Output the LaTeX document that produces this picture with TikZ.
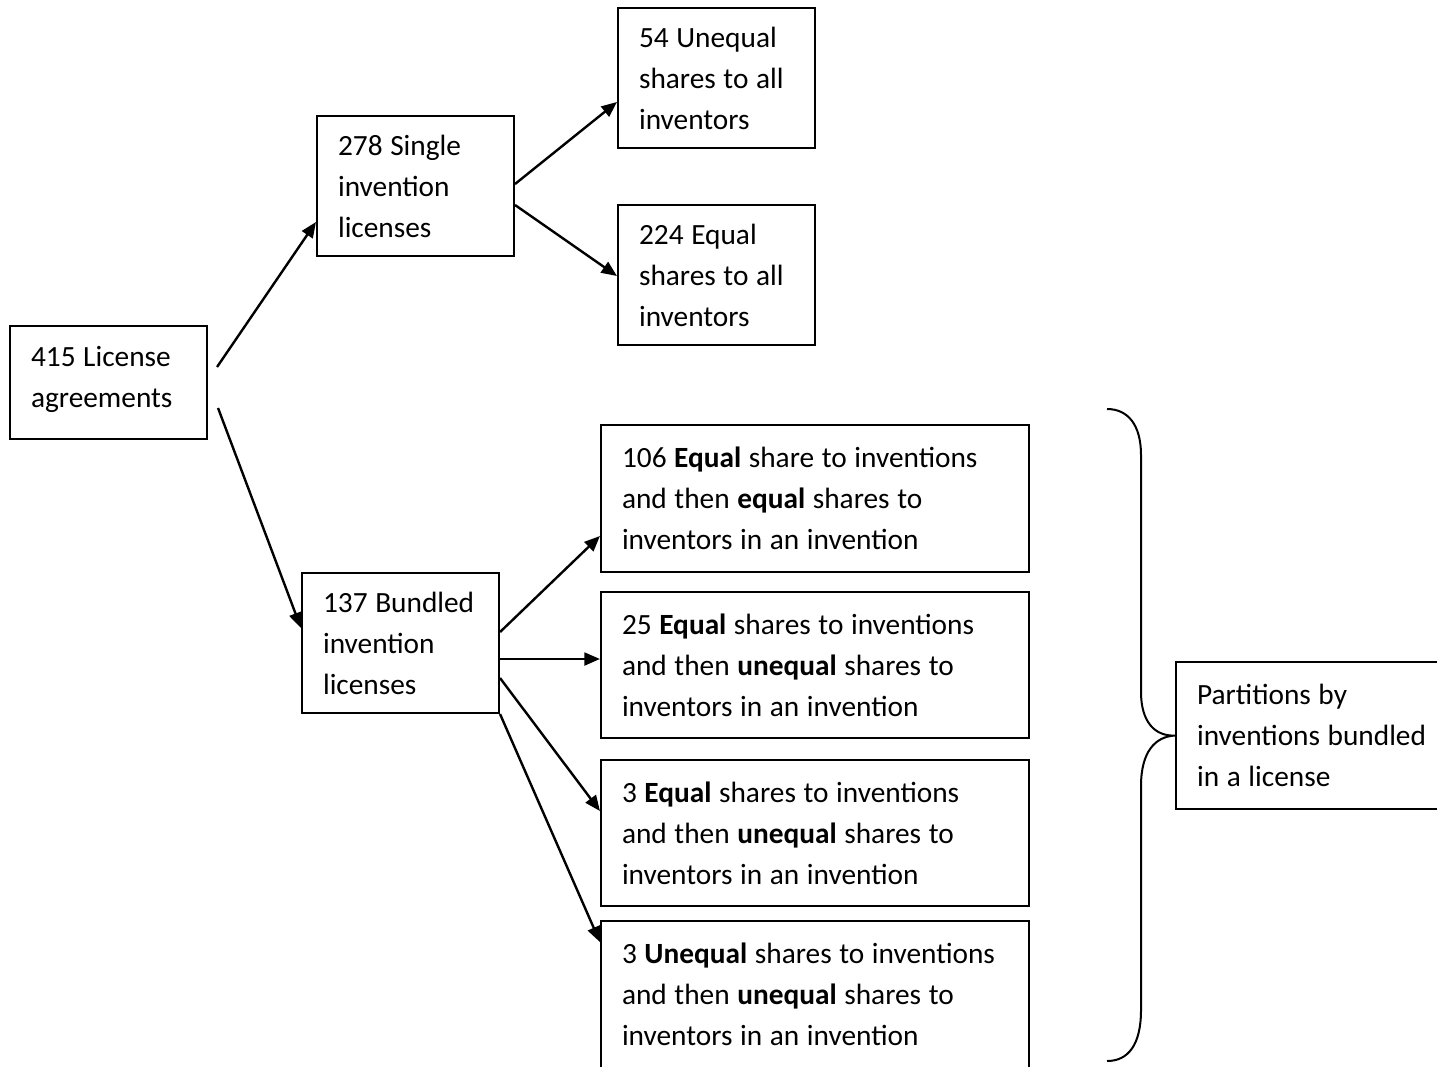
\documentclass[tikz,border=0pt]{standalone}
\usepackage{fontspec}
\setmainfont{Carlito}
\usepackage{tikz}
\usetikzlibrary{positioning, arrows.meta, calc}

\begin{document}
\begin{tikzpicture}[
  x=0.375pt, y=-0.375pt,
  every node/.style={font=\fontsize{11}{15.4}\selectfont, execute at begin node={\spaceskip=2.85pt plus 0.5pt\relax}},
  box/.style={draw, rectangle, line width=0.75pt, align=left, inner xsep=7.9pt, inner ysep=0pt, text width=58.1pt, minimum height=52.5pt},
  widebox/.style={box, text width=144.75pt, minimum height=55.1pt},
  arrow/.style={-{Triangle[length=5.8pt, width=4.8pt]}, line width=0.9pt}
]
\useasboundingbox (0,0) rectangle (1437,1066);

% Nodes
\node[box, minimum height=42.4pt, text depth=19.4pt] (license_all) at (108.5,382.5) {415 License\\agreements};
\node[box] (single) at (415.5,186) {278 Single\\invention\\licenses};
\node[box] (single_unequal) at (716.5,78) {54 Unequal\\shares to all\\inventors};
\node[box] (single_equal) at (716.5,275) {224 Equal\\shares to all\\inventors};
\node[box] (bundled) at (400.5,643) {137 Bundled\\invention\\licenses};

\node[widebox] (eq_eq) at (815,498.5) {106 \textbf{Equal} share to inventions\\and then \textbf{equal} shares to\\inventors in an invention};
\node[widebox] (eq_uneq_a) at (815,665) {25 \textbf{Equal} shares to inventions\\and then \textbf{unequal} shares to\\inventors in an invention};
\node[widebox] (eq_uneq_b) at (815,833) {3 \textbf{Equal} shares to inventions\\and then \textbf{unequal} shares to\\inventors in an invention};
\node[widebox] (uneq_uneq) at (815,994.5) {3 \textbf{Unequal} shares to inventions\\and then \textbf{unequal} shares to\\inventors in an invention};

\node[widebox, text width=89pt, anchor=west] (partitions) at (1175,735.5) {Partitions by\\inventions bundled\\in a license};

% Arrows
\draw[arrow] ($(license_all.east)+(9,-15.5)$) -- ($(single.west)+(0,36)$);
\draw[arrow] ($(license_all.east)+(10,25.5)$) -- ($(bundled.west)+(0,-15)$);
\draw[arrow] ($(single.east)+(0,-2)$) -- ($(single_unequal.west)+(0,24)$);
\draw[arrow] ($(single.east)+(0,19)$) -- ($(single_equal.west)+(0,1)$);
\draw[arrow] ($(bundled.east)+(0,-11)$) -- ($(eq_eq.west)+(0,37.5)$);
\draw[arrow] ($(bundled.east)+(0,16)$) -- ($(eq_uneq_a.west)+(0,-6)$);
\draw[arrow] ($(bundled.east)+(0,35)$) -- ($(eq_uneq_b.west)+(0,-22)$);
\draw[arrow] (bundled.south east) -- ($(uneq_uneq.west)+(0,-52.5)$);

% Brace
\draw[line width=0.75pt] (1107,409) .. controls (1128,409) and (1141,425) .. (1141,455)
  -- (1141,692) .. controls (1141,722) and (1155,736.5) .. (partitions.west)
  .. controls (1155,736.5) and (1141,752) .. (1141,786)
  -- (1141,1010) .. controls (1141,1045) and (1128,1061) .. (1107,1061);

\end{tikzpicture}
\end{document}
